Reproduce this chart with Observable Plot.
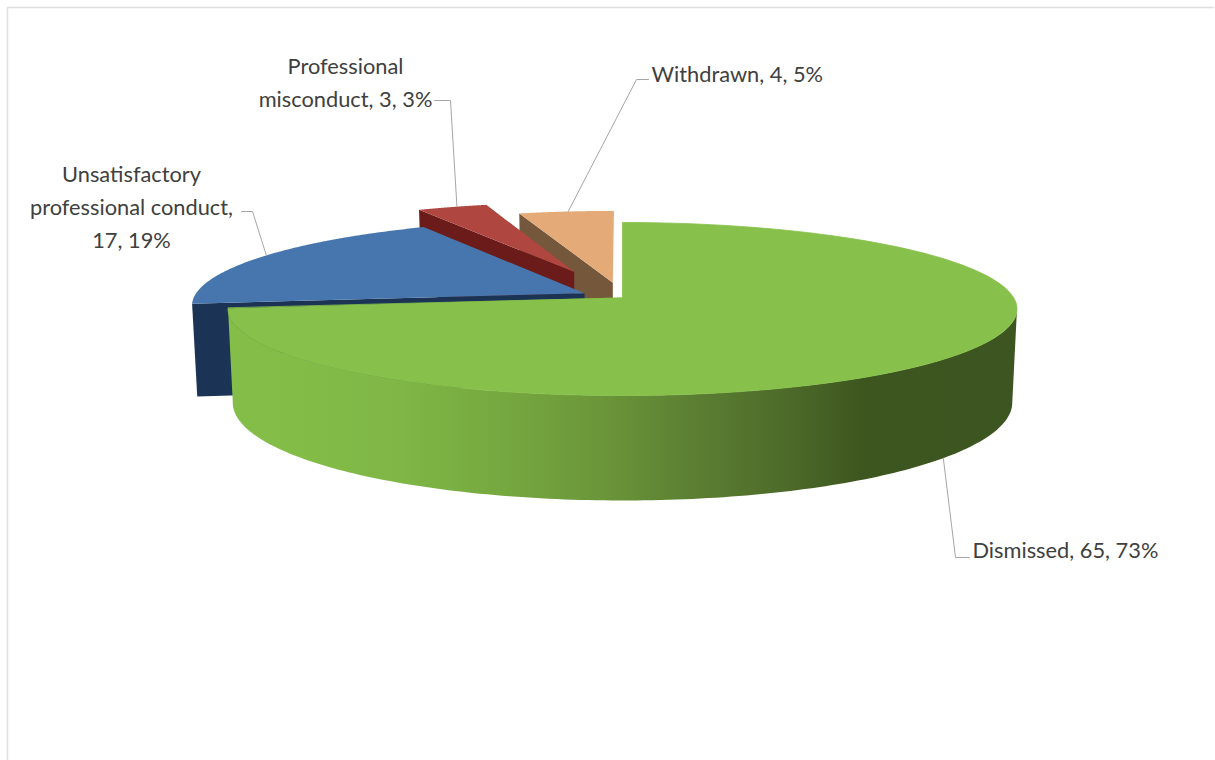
<!DOCTYPE html>
<html>
<head>
<meta charset="utf-8">
<title>Complaint outcomes</title>
<style>
  html, body { margin: 0; padding: 0; background: #fff; }
  svg { display: block; }
</style>
<script src="https://cdn.jsdelivr.net/npm/d3@7"></script>
<script src="https://cdn.jsdelivr.net/npm/@observablehq/plot@0.6"></script>
</head>
<body>
<div id="chart"></div>
<script>
// Outcomes, in drawing order clockwise from twelve o'clock
const categories = ["Dismissed", "Unsatisfactory\nprofessional conduct", "Professional\nmisconduct", "Withdrawn"];
const values = [65, 17, 3, 4];
const percents = [73, 19, 3, 5];
const separators = [" ", "\n", " ", " "];

// Slice styling
const topColors = ["#87c04a", "#4676ad", "#b04640", "#e4ab78"];
const wallColors = [null, "#1b3355", "#6b1c1a", "#75583c"];
const explode = [0, 0.11, 0.34, 0.18];

// Where each label and its leader elbow sit, and where along the rim its leader lands
const labelLayout = [
  {x: 972, y: 547, anchor: "start", from: [969, 557], elbow: [955, 557], share: 0.497},
  {x: 131, y: 204, anchor: "middle", from: [241, 211], elbow: [252, 211], share: 0.52},
  {x: 345, y: 79, anchor: "middle", from: [434, 100], elbow: [450, 100], share: 0.57},
  {x: 651, y: 71, anchor: "start", from: [648, 79], elbow: [636, 79], share: 0.52}
];

// Perspective model of the pie: unit disc tilted away from the viewer
const cam = {cx: 622, cy: 297, R: 391, H: 85, p: 0.133, depth: 92, shrink: 0.988};

function project(u, v, lower) {
  const s = 1 / (1 + cam.p * v);
  const k = lower ? cam.shrink : 1;
  return {
    x: cam.cx + cam.R * u * s * k,
    y: cam.cy - cam.H * v * s * k + (lower ? cam.depth * s : 0)
  };
}

const total = d3.sum(values);
let running = 0;
const slices = values.map((value, i) => {
  const a0 = running / total * 2 * Math.PI;
  running += value;
  const a1 = running / total * 2 * Math.PI;
  const mid = (a0 + a1) / 2;
  return {i, a0, a1, mid, du: explode[i] * Math.sin(mid), dv: explode[i] * Math.cos(mid)};
});

const rim = (s, a, lower) => project(Math.sin(a) + s.du, Math.cos(a) + s.dv, lower);
const hub = (s, lower) => project(s.du, s.dv, lower);
const arc = (s, a0, a1, lower, n = 160) =>
  d3.range(n + 1).map(k => rim(s, a0 + (a1 - a0) * k / n, lower));

const topFace = s => [hub(s, false), ...arc(s, s.a0, s.a1, false)];
const radialWall = s => [hub(s, false), rim(s, s.a0, false), rim(s, s.a0, true), hub(s, true)];

// The near side of the largest slice starts where the rim turns towards the viewer
const dismissed = slices[0];
const nearStart = Math.acos(-cam.p);
const curvedWall = [
  ...arc(dismissed, nearStart, dismissed.a1, false),
  ...arc(dismissed, dismissed.a1, nearStart, true)
];

const polygon = (points, fill, stroke = "none") =>
  Plot.line(points, {x: "x", y: "y", fill, stroke, strokeWidth: 0.8, curve: "linear-closed"});

// Lighting across the curved side
const wallStops = [
  [0, "#84bd48"], [0.09, "#84bc48"], [0.216, "#7fb646"], [0.344, "#76a940"],
  [0.472, "#6b9639"], [0.6, "#5a7d32"], [0.70, "#4e6c2a"], [0.805, "#3d561f"], [1, "#3d5520"]
];
function wallGradient() {
  const defs = d3.create("svg:defs");
  const g = defs.append("linearGradient").attr("id", "wall-shade")
    .attr("x1", 0).attr("x2", 1).attr("y1", 0).attr("y2", 0);
  wallStops.forEach(([o, c]) => g.append("stop").attr("offset", o).attr("stop-color", c));
  return defs.node();
}

const labelRows = slices.map(s => ({
  ...labelLayout[s.i],
  text: `${categories[s.i]},${separators[s.i]}${values[s.i]}, ${percents[s.i]}%`
}));

// Leaders run from the label through the elbow to the slice's rim
const leaders = slices.map(s => {
  const l = labelLayout[s.i];
  const end = rim(s, s.a0 + (s.a1 - s.a0) * l.share, s.i === 0);
  return [{x: l.from[0], y: l.from[1]}, {x: l.elbow[0], y: l.elbow[1]}, end];
});

const labelMark = anchor => Plot.text(labelRows.filter(d => d.anchor === anchor), {
  x: "x", y: "y", text: "text", textAnchor: anchor,
  fontFamily: "Lato", fontSize: 21.8, lineHeight: 1.52, fill: "#404040"
});

const chart = Plot.plot({
  width: 1215,
  height: 760,
  margin: 0,
  x: {domain: [0, 1215], range: [0, 1215], axis: null},
  y: {domain: [0, 760], range: [0, 760], axis: null},
  marks: [
    wallGradient,
    // Chart frame
    Plot.ruleY([7], {x1: 7, x2: 1214, stroke: "#e0e0e0", strokeWidth: 1.5}),
    Plot.ruleX([7], {y1: 7, y2: 760, stroke: "#e0e0e0", strokeWidth: 1.5}),
    // Back to front: the pulled-out slices first, the large slice last
    polygon(radialWall(slices[3]), wallColors[3]),
    polygon(topFace(slices[3]), topColors[3]),
    polygon(radialWall(slices[2]), wallColors[2]),
    polygon(topFace(slices[2]), topColors[2]),
    polygon(radialWall(slices[1]), wallColors[1]),
    polygon(topFace(slices[1]), topColors[1]),
    polygon(curvedWall, "url(#wall-shade)"),
    polygon(topFace(slices[0]), topColors[0], topColors[0]),
    // Leaders and labels
    ...leaders.map(points => Plot.line(points, {x: "x", y: "y", stroke: "#a6a6a6", strokeWidth: 1})),
    labelMark("start"),
    labelMark("middle")
  ]
});

document.getElementById("chart").append(chart);
</script>
</body>
</html>
